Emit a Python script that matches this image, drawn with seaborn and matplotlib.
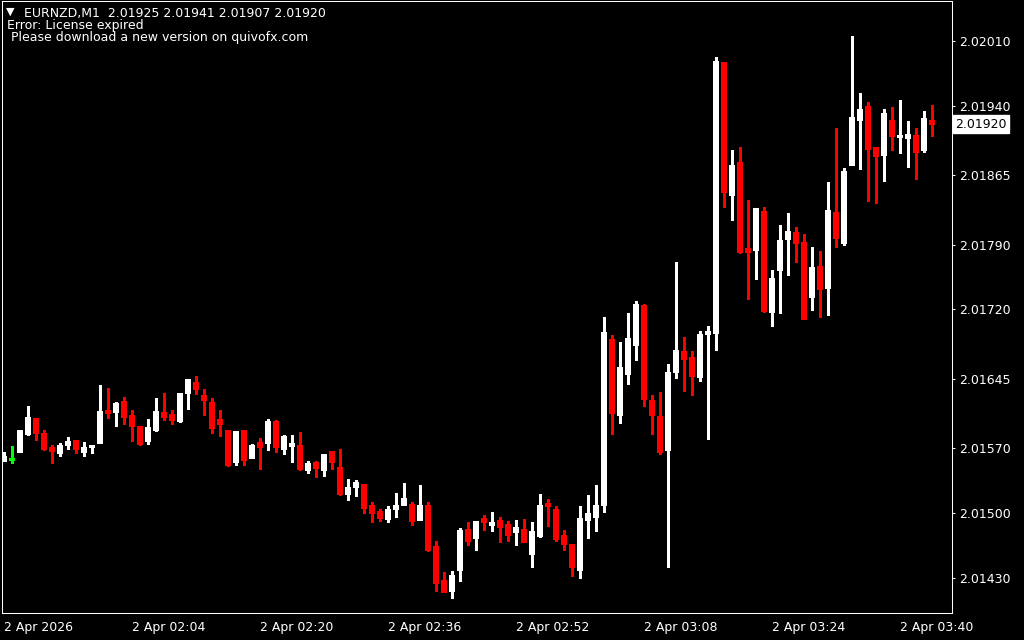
import numpy as np
import pandas as pd
import seaborn as sns
import matplotlib
matplotlib.use("Agg")
import matplotlib.pyplot as plt

# EURNZD M1, 2 Apr 2026 01:48 .. 03:44
symbol = "EURNZD,M1"
times = pd.date_range("2026-04-02 01:48", periods=117, freq="min")

opens = [2.01556, 2.01558, 2.01566, 2.01585, 2.01602, 2.01586, 2.01571, 2.01565, 2.01573, 2.01579,
         2.01566, 2.01571, 2.01575, 2.01611, 2.01609, 2.01621, 2.01606, 2.01594, 2.01578, 2.01590,
         2.01609, 2.01607, 2.01599, 2.01629, 2.01641, 2.01627, 2.01620, 2.01601, 2.01589, 2.01555,
         2.01590, 2.01559, 2.01576, 2.01575, 2.01599, 2.01569, 2.01572, 2.01573, 2.01546, 2.01555,
         2.01546, 2.01567, 2.01549, 2.01520, 2.01528, 2.01531, 2.01508, 2.01502, 2.01493, 2.01504,
         2.01508, 2.01509, 2.01492, 2.01508, 2.01464, 2.01427, 2.01415, 2.01438, 2.01482, 2.01473,
         2.01494, 2.01487, 2.01492, 2.01488, 2.01479, 2.01482, 2.01455, 2.01475, 2.01511, 2.01504,
         2.01476, 2.01466, 2.01438, 2.01492, 2.01495, 2.01508, 2.01688, 2.01606, 2.01650, 2.01681,
         2.01725, 2.01622, 2.01605, 2.01568, 2.01652, 2.01675, 2.01668, 2.01647, 2.01693, 2.01694,
         2.01987, 2.01844, 2.01879, 2.01786, 2.01784, 2.01826, 2.01717, 2.01762, 2.01796, 2.01804,
         2.01793, 2.01733, 2.01767, 2.01743, 2.01825, 2.01792, 2.01876, 2.01925, 2.01940, 2.01895,
         2.01887, 2.01925, 2.01906, 2.01905, 2.01908, 2.01892, 2.01925]

highs = [2.01566, 2.01572, 2.01590, 2.01615, 2.01602, 2.01590, 2.01573, 2.01575, 2.01582, 2.01579,
         2.01576, 2.01573, 2.01638, 2.01635, 2.01620, 2.01625, 2.01611, 2.01594, 2.01601, 2.01624,
         2.01629, 2.01611, 2.01629, 2.01645, 2.01648, 2.01634, 2.01624, 2.01611, 2.01590, 2.01588,
         2.01590, 2.01574, 2.01581, 2.01601, 2.01600, 2.01584, 2.01584, 2.01587, 2.01556, 2.01556,
         2.01564, 2.01567, 2.01569, 2.01536, 2.01535, 2.01531, 2.01512, 2.01504, 2.01507, 2.01521,
         2.01532, 2.01512, 2.01530, 2.01512, 2.01469, 2.01436, 2.01437, 2.01484, 2.01490, 2.01491,
         2.01498, 2.01501, 2.01495, 2.01491, 2.01492, 2.01493, 2.01490, 2.01520, 2.01515, 2.01507,
         2.01481, 2.01466, 2.01507, 2.01519, 2.01530, 2.01712, 2.01692, 2.01685, 2.01716, 2.01729,
         2.01726, 2.01627, 2.01631, 2.01661, 2.01771, 2.01690, 2.01675, 2.01696, 2.01702, 2.01993,
         2.01987, 2.01892, 2.01895, 2.01838, 2.01829, 2.01831, 2.01762, 2.01811, 2.01824, 2.01809,
         2.01801, 2.01787, 2.01783, 2.01858, 2.01916, 2.01873, 2.02015, 2.01954, 2.01944, 2.01895,
         2.01936, 2.01939, 2.01946, 2.01924, 2.01916, 2.01934, 2.01941]

lows = [2.01556, 2.01554, 2.01566, 2.01584, 2.01579, 2.01568, 2.01554, 2.01561, 2.01569, 2.01565,
        2.01561, 2.01565, 2.01575, 2.01602, 2.01594, 2.01596, 2.01578, 2.01573, 2.01574, 2.01588,
        2.01600, 2.01596, 2.01598, 2.01612, 2.01628, 2.01606, 2.01586, 2.01583, 2.01551, 2.01552,
        2.01552, 2.01559, 2.01547, 2.01568, 2.01566, 2.01564, 2.01555, 2.01546, 2.01543, 2.01539,
        2.01540, 2.01547, 2.01519, 2.01514, 2.01518, 2.01500, 2.01490, 2.01491, 2.01490, 2.01495,
        2.01508, 2.01487, 2.01492, 2.01459, 2.01415, 2.01414, 2.01408, 2.01426, 2.01465, 2.01460,
        2.01481, 2.01480, 2.01468, 2.01469, 2.01465, 2.01468, 2.01441, 2.01474, 2.01486, 2.01469,
        2.01460, 2.01432, 2.01429, 2.01473, 2.01480, 2.01501, 2.01585, 2.01597, 2.01639, 2.01665,
        2.01615, 2.01585, 2.01564, 2.01441, 2.01646, 2.01632, 2.01627, 2.01642, 2.01580, 2.01676,
        2.01831, 2.01817, 2.01781, 2.01731, 2.01753, 2.01717, 2.01702, 2.01716, 2.01757, 2.01771,
        2.01710, 2.01719, 2.01712, 2.01714, 2.01787, 2.01790, 2.01876, 2.01872, 2.01837, 2.01835,
        2.01859, 2.01892, 2.01889, 2.01874, 2.01861, 2.01890, 2.01907]

closes = [2.01561, 2.01558, 2.01590, 2.01604, 2.01586, 2.01569, 2.01567, 2.01573, 2.01578, 2.01569,
          2.01571, 2.01573, 2.01610, 2.01608, 2.01619, 2.01604, 2.01594, 2.01574, 2.01593, 2.01610,
          2.01604, 2.01600, 2.01629, 2.01645, 2.01634, 2.01622, 2.01592, 2.01596, 2.01552, 2.01588,
          2.01557, 2.01573, 2.01571, 2.01599, 2.01571, 2.01583, 2.01575, 2.01547, 2.01554, 2.01548,
          2.01564, 2.01555, 2.01520, 2.01528, 2.01533, 2.01505, 2.01500, 2.01494, 2.01504, 2.01508,
          2.01516, 2.01491, 2.01508, 2.01460, 2.01424, 2.01414, 2.01433, 2.01481, 2.01469, 2.01491,
          2.01490, 2.01490, 2.01485, 2.01476, 2.01485, 2.01468, 2.01480, 2.01508, 2.01507, 2.01472,
          2.01466, 2.01441, 2.01494, 2.01500, 2.01508, 2.01695, 2.01608, 2.01658, 2.01689, 2.01726,
          2.01623, 2.01606, 2.01566, 2.01652, 2.01676, 2.01666, 2.01648, 2.01693, 2.01696, 2.01988,
          2.01847, 2.01876, 2.01782, 2.01782, 2.01829, 2.01718, 2.01754, 2.01795, 2.01805, 2.01792,
          2.01710, 2.01766, 2.01742, 2.01827, 2.01797, 2.01869, 2.01928, 2.01936, 2.01893, 2.01886,
          2.01932, 2.01907, 2.01908, 2.01910, 2.01890, 2.01927, 2.01920]

price_ticks = [2.02010, 2.01940, 2.01865, 2.01790, 2.01720, 2.01645, 2.01570, 2.01500, 2.01430]
time_tick_labels = ["2 Apr 2026", "2 Apr 02:04", "2 Apr 02:20", "2 Apr 02:36",
                    "2 Apr 02:52", "2 Apr 03:08", "2 Apr 03:24", "2 Apr 03:40"]
header_lines = ["Error: License expired", " Please download a new version on quivofx.com"]

df = pd.DataFrame({"time": times, "open": opens, "high": highs, "low": lows, "close": closes})
df["i"] = np.arange(len(df))
df["color"] = np.where(df["close"] > df["open"], "#ffffff",
                       np.where(df["close"] < df["open"], "#ff0000", "#00ff00"))

sns.set_style("dark")
plt.rcParams["font.family"] = ["DejaVu Sans"]

W, H = 1024, 640
fig = plt.figure(figsize=(W / 100, H / 100), dpi=100, facecolor="black")
ax = fig.add_axes([2 / W, (H - 613) / H, 950 / W, 612 / H])
ax.set_facecolor("black")

# wicks
ax.vlines(df["i"], df["low"], df["high"], colors=df["color"], linewidth=0.75, antialiased=False)
# bodies
body = df[df["open"] != df["close"]]
ax.bar(body["i"], (body["close"] - body["open"]).abs(), bottom=body[["open", "close"]].min(axis=1),
       width=0.625, color=body["color"], edgecolor=body["color"], linewidth=0.5, antialiased=False)
# doji
doji = df[df["open"] == df["close"]]
ax.hlines(doji["open"], doji["i"] - 0.3125, doji["i"] + 0.3125, colors=doji["color"],
          linewidth=0.75, antialiased=False)

ax.set_xlim(-0.1875, 118.5625)
px = 1.081081e-5
ax.set_ylim(2.02010 - 572 * px, 2.02010 + 40 * px)

for s in ax.spines.values():
    s.set_color("white")
    s.set_linewidth(0.75)

ax.yaxis.tick_right()
ax.set_yticks(price_ticks, [f"{p:.5f}" for p in price_ticks])
ax.set_xticks(df["i"][::16], time_tick_labels, ha="left")
ax.tick_params(axis="y", direction="out", length=2, width=0.75, colors="white", labelsize=9, pad=3)
ax.tick_params(axis="x", direction="out", length=3, width=0.75, colors="white", labelsize=9, pad=3)
ax.grid(False)
ax.set_xlabel("")
ax.set_ylabel("")

# current price label
last = df["close"].iloc[-1]
ax.annotate(f"{last:.5f}", xy=(1, last), xycoords=("axes fraction", "data"),
            xytext=(2.5, 0), textcoords="offset points", ha="left", va="center",
            fontsize=9, color="black",
            bbox=dict(boxstyle="square,pad=0.2", fc="white", ec="white"))

# header
fig.text(6 / W, 1 - 12 / H, "\u25bc", color="white", fontsize=8, va="center", ha="left")
fig.text(24 / W, 1 - 13 / H,
         f"{symbol}  {opens[-1]:.5f} {highs[-1]:.5f} {lows[-1]:.5f} {closes[-1]:.5f}",
         color="white", fontsize=9, va="center", ha="left")
fig.text(7 / W, 1 - 26 / H, header_lines[0], color="white", fontsize=9, va="center", ha="left")
fig.text(7 / W, 1 - 38 / H, header_lines[1], color="white", fontsize=9, va="center", ha="left")

fig.savefig("out.png", dpi=100, facecolor="black")
